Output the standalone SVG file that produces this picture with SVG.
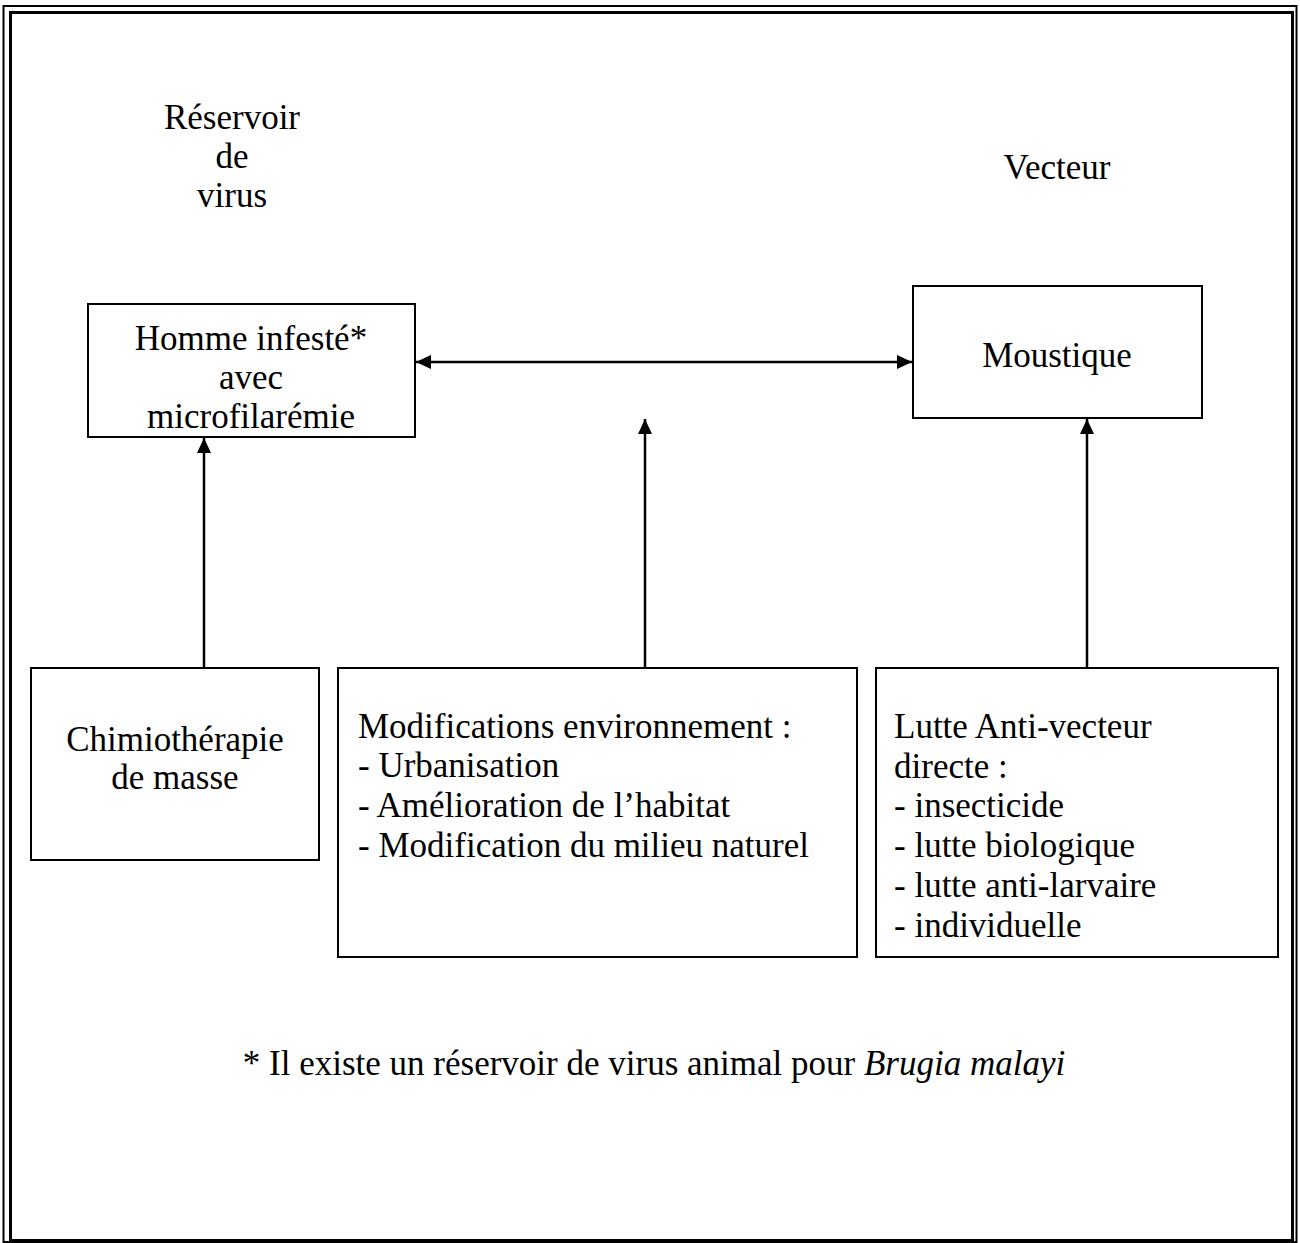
<svg xmlns="http://www.w3.org/2000/svg" width="1300" height="1243" viewBox="0 0 1300 1243">
<defs>
<marker id="ah" viewBox="0 0 15 14" refX="15" refY="7" markerWidth="15" markerHeight="14" markerUnits="userSpaceOnUse" orient="auto-start-reverse">
<path d="M0,0 L15,7 L0,14 Z" fill="#000"/>
</marker>
</defs>
<style>
.box{fill:#fff;stroke:#000;stroke-width:2}
.t{font-family:'Liberation Serif','DejaVu Serif',serif;font-size:35px;fill:#000}
.c{text-anchor:middle}
.ln{stroke:#000;stroke-width:2.5;fill:none}
</style>
<rect x="0" y="0" width="1300" height="1243" fill="#fff"/>
<g id="frame">
<rect x="3.5" y="6" width="1293" height="1236" fill="none" stroke="#000" stroke-width="2"/>
<rect x="10.5" y="12.5" width="1282" height="1228" fill="none" stroke="#000" stroke-width="3"/>
</g>
<g id="labels">
<text class="t c" x="232" y="129">Réservoir</text>
<text class="t c" x="232" y="168">de</text>
<text class="t c" x="232" y="207">virus</text>
<text class="t c" x="1057" y="179">Vecteur</text>
</g>
<g id="connectors">
<line class="ln" x1="416" y1="362" x2="912" y2="362" marker-start="url(#ah)" marker-end="url(#ah)"/>
<line class="ln" x1="204" y1="668" x2="204" y2="438" marker-end="url(#ah)"/>
<line class="ln" x1="645" y1="668" x2="645" y2="419" marker-end="url(#ah)"/>
<line class="ln" x1="1087" y1="668" x2="1087" y2="419" marker-end="url(#ah)"/>
</g>
<g id="homme">
<rect class="box" x="88" y="304" width="327" height="133"/>
<text class="t c" x="251" y="350">Homme infesté*</text>
<text class="t c" x="251" y="389">avec</text>
<text class="t c" x="251" y="428">microfilarémie</text>
</g>
<g id="moustique">
<rect class="box" x="913" y="286" width="289" height="132"/>
<text class="t c" x="1057" y="367">Moustique</text>
</g>
<g id="chimio">
<rect class="box" x="31" y="668" width="288" height="192"/>
<text class="t c" x="175" y="751">Chimiothérapie</text>
<text class="t c" x="175" y="789">de masse</text>
</g>
<g id="environnement">
<rect class="box" x="338" y="668" width="519" height="289"/>
<text class="t" x="358" y="738">Modifications environnement :</text>
<text class="t" x="358" y="777">- Urbanisation</text>
<text class="t" x="358" y="817">- Amélioration de l’habitat</text>
<text class="t" x="358" y="857">- Modification du milieu naturel</text>
</g>
<g id="lutte">
<rect class="box" x="876" y="668" width="402" height="289"/>
<text class="t" x="894" y="738">Lutte Anti-vecteur</text>
<text class="t" x="894" y="778">directe :</text>
<text class="t" x="894" y="817">- insecticide</text>
<text class="t" x="894" y="857">- lutte biologique</text>
<text class="t" x="894" y="897">- lutte anti-larvaire</text>
<text class="t" x="894" y="937">- individuelle</text>
</g>
<g id="footnote">
<text class="t c" x="654" y="1075">* Il existe un réservoir de virus animal pour <tspan font-style="italic">Brugia malayi</tspan></text>
</g>
</svg>
